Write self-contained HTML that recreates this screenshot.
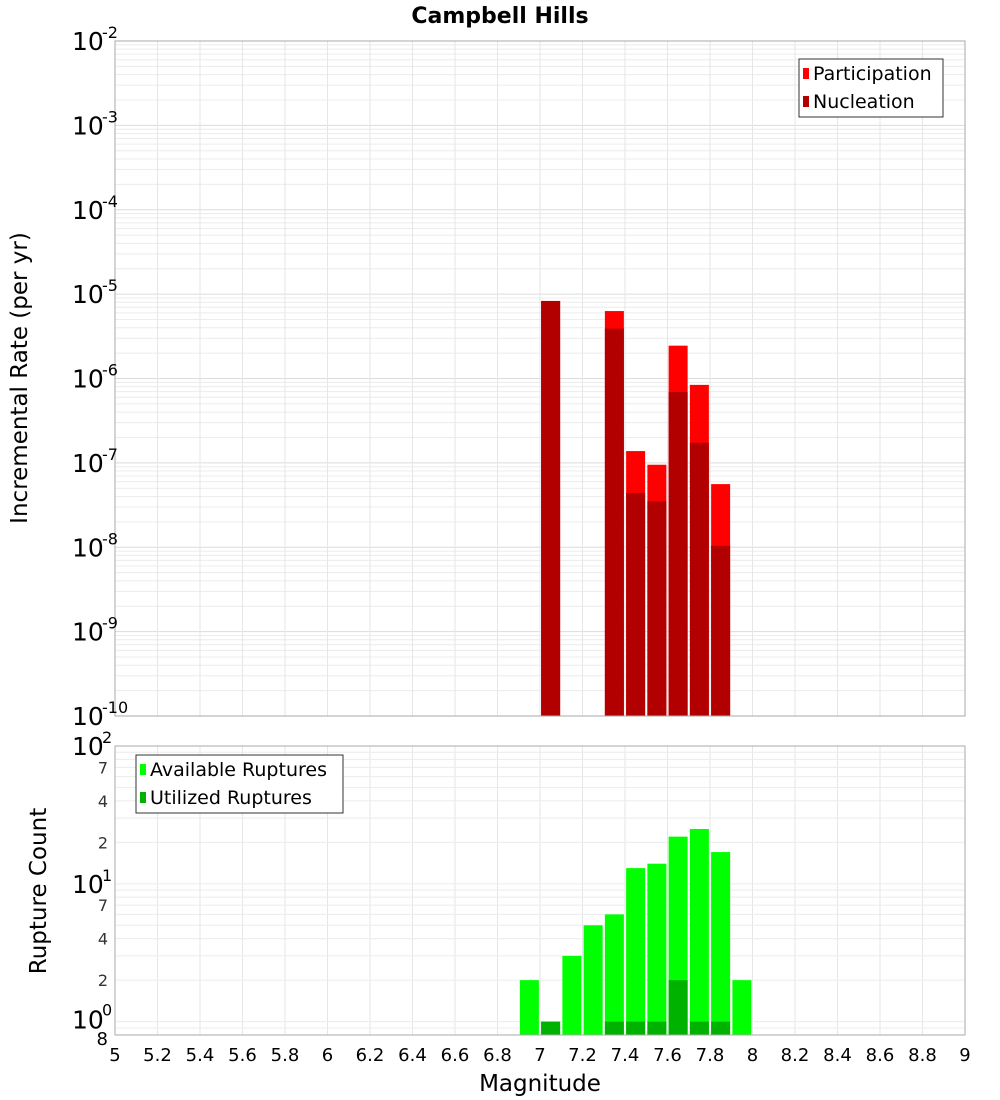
<!DOCTYPE html>
<html><head><meta charset="utf-8">
<style>
html,body{margin:0;padding:0;background:#fff;}
svg{display:block;font-family:"DejaVu Sans","Liberation Sans",sans-serif;}
</style></head>
<body>
<svg id="chart" width="1000" height="1100" viewBox="0 0 1000 1100" xmlns="http://www.w3.org/2000/svg">
<text x="500" y="23" text-anchor="middle" font-size="22" font-weight="bold">Campbell Hills</text>
<g id="topPlot"></g>
<g id="botPlot"></g>
<text transform="translate(27,378) rotate(-90)" text-anchor="middle" font-size="23">Incremental Rate (per yr)</text>
<text transform="translate(46,891) rotate(-90)" text-anchor="middle" font-size="23">Rupture Count</text>
<text x="540" y="1091" text-anchor="middle" font-size="23">Magnitude</text>
</svg>
<script>
const topMags = [7.05, 7.35, 7.45, 7.55, 7.65, 7.75, 7.85];
const participation = [8.3e-6, 6.3e-6, 1.38e-7, 9.5e-8, 2.45e-6, 8.4e-7, 5.6e-8];
const nucleation = [8.3e-6, 3.9e-6, 4.4e-8, 3.5e-8, 6.9e-7, 1.73e-7, 1.04e-8];
const botMags = [6.95, 7.05, 7.15, 7.25, 7.35, 7.45, 7.55, 7.65, 7.75, 7.85, 7.95];
const available = [2, 1, 3, 5, 6, 13, 14, 22, 25, 17, 2];
const utilized = [0, 1, 0, 0, 1, 1, 1, 2, 1, 1, 0];
const xTicks = [5,5.2,5.4,5.6,5.8,6,6.2,6.4,6.6,6.8,7,7.2,7.4,7.6,7.8,8,8.2,8.4,8.6,8.8,9];

const NS = "http://www.w3.org/2000/svg";
const L = 115, R = 965;
const X = m => L + (m - 5) / 4 * (R - L);
const TT = 41, TB = 716;
const YT = v => TT + (-2 - Math.log10(v)) / 8 * (TB - TT);
const BT = 746, BB = 1035, bMin = Math.log10(0.8), bMax = 2;
const YB = v => BT + (bMax - Math.log10(v)) / (bMax - bMin) * (BB - BT);
const BW = 19;

function mk(tag, attrs, parent, txt) {
  const e = document.createElementNS(NS, tag);
  for (const k in attrs) e.setAttribute(k, attrs[k]);
  if (txt !== undefined) e.textContent = txt;
  parent.appendChild(e);
  return e;
}
const topG = document.getElementById('topPlot');
const botG = document.getElementById('botPlot');

for (let d = -10; d < -2; d++) {
  for (let k = 1; k < 10; k++) {
    const y = YT(k * Math.pow(10, d));
    const g = mk('line', {x1: L, x2: R, y1: y, y2: y, stroke: k === 1 ? '#dcdcdc' : '#ececec', 'stroke-width': 1}, topG);
    
    
  }
}
xTicks.forEach(t => {
  const g = mk('line', {x1: X(t), x2: X(t), y1: TT, y2: TB, stroke: '#e6e6e6'}, topG);
  
  
  const g2 = mk('line', {x1: X(t), x2: X(t), y1: BT, y2: BB, stroke: '#e6e6e6'}, botG);
  
  
});
for (let d = -1; d < 2; d++) {
  for (let k = 1; k < 10; k++) {
    const v = k * Math.pow(10, d);
    if (v < 0.8) continue;
    const y = YB(v);
    const g = mk('line', {x1: L, x2: R, y1: y, y2: y, stroke: '#ececec'}, botG);
    
    
  }
}

topMags.forEach((m, i) => {
  const p = mk('rect', {x: X(m) - BW / 2, y: YT(participation[i]), width: BW, height: TB - YT(participation[i]), fill: '#ff0000'}, topG);
  
  
  const n = mk('rect', {x: X(m) - BW / 2, y: YT(nucleation[i]), width: BW, height: TB - YT(nucleation[i]), fill: '#b20000'}, topG);
  
  
});
botMags.forEach((m, i) => {
  if (available[i] > 0) {
    const a = mk('rect', {x: X(m) - BW / 2, y: YB(available[i]), width: BW, height: BB - YB(available[i]), fill: '#00ff00'}, botG);
    
    
  }
  if (utilized[i] > 0) {
    const u = mk('rect', {x: X(m) - BW / 2, y: YB(utilized[i]), width: BW, height: BB - YB(utilized[i]), fill: '#00b200'}, botG);
    
    
  }
});

const f1 = mk('rect', {x: L, y: TT, width: R - L, height: TB - TT, fill: 'none', stroke: '#aaaaaa'}, topG);


const f2 = mk('rect', {x: L, y: BT, width: R - L, height: BB - BT, fill: 'none', stroke: '#aaaaaa'}, botG);



for (let d = -10; d <= -2; d++) {
  const y = YT(Math.pow(10, d));
  const t = mk('text', {x: 72, y: y + 9, 'font-size': 25}, topG, '10');
  
  
  const s = mk('text', {x: 102, y: y - 3, 'font-size': 16}, topG, String(d));
  
  
}
[[100, '2'], [10, '1'], [1, '0']].forEach(([v, e]) => {
  const y = YB(v);
  const t = mk('text', {x: 72, y: y + (v === 1 ? 7 : 9), 'font-size': 25}, botG, '10');
  
  
  const s = mk('text', {x: 102, y: y - (v === 1 ? 6 : 3), 'font-size': 16}, botG, e);
  
  
});
[7, 4, 2, 70, 40, 20].forEach(v => {
  const t = mk('text', {x: 108, y: YB(v) + 6, 'font-size': 16, 'text-anchor': 'end', fill: '#333'}, botG, String(v)[0]);
  
  
});
const e8 = mk('text', {x: 108, y: YB(0.8) + 10, 'font-size': 18, 'text-anchor': 'end'}, botG, '8');



xTicks.forEach(t => {
  const lab = mk('text', {x: X(t), y: 1061, 'font-size': 18, 'text-anchor': 'middle'}, botG, String(t));
  
  
});

function legend(parent, x, y, w, items, name) {
  const g = mk('g', {}, parent);
  
  
  mk('rect', {x: x, y: y, width: w, height: 58, fill: '#fff', stroke: '#333'}, g);
  items.forEach((it, i) => {
    const r = mk('rect', {x: x + 4, y: y + 9 + i * 28, width: 6, height: 11, fill: it[1]}, g);
    
    
    const t = mk('text', {x: x + 14, y: y + 21 + i * 28, 'font-size': 19}, g, it[0]);
    
    
  });
}
legend(topG, 799, 59, 144, [['Participation', '#ff0000'], ['Nucleation', '#b20000']], 'legend-rate');
legend(botG, 136, 755, 207, [['Available Ruptures', '#00ff00'], ['Utilized Ruptures', '#00b200']], 'legend-count');
</script>
</body></html>
